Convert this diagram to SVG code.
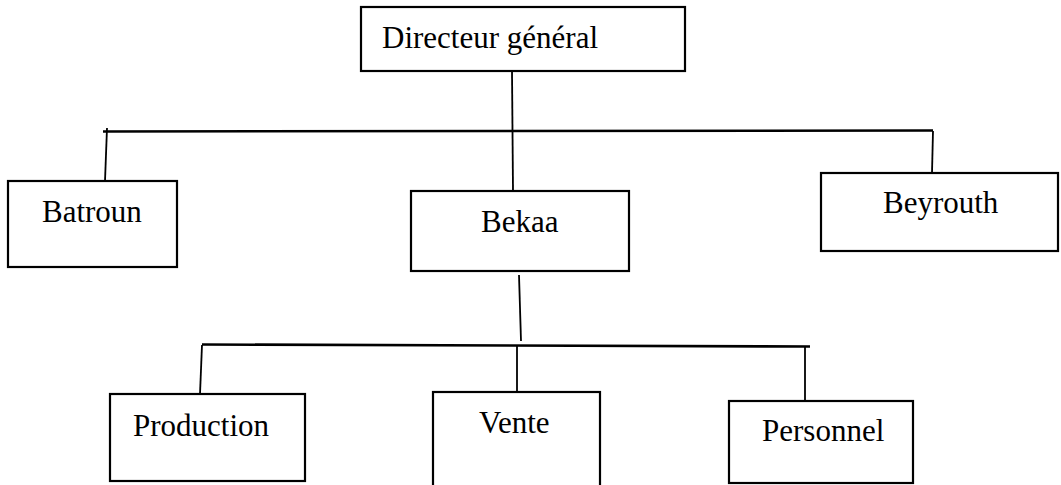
<svg xmlns="http://www.w3.org/2000/svg" width="1061" height="485" viewBox="0 0 1061 485">
<style>
.box{fill:#fff;stroke:#000;stroke-width:2.2}
.ln{stroke:#000;stroke-width:1.8;fill:none}
.hl{stroke:#000;stroke-width:2.6;fill:none}
text{font-family:"Liberation Serif","Times New Roman",serif;font-size:31px;fill:#000}
</style>
<rect width="1061" height="485" fill="#fff"/>
<g id="connectors">
<line class="ln" x1="512" y1="71" x2="513" y2="191"/>
<line class="hl" x1="103" y1="131.5" x2="933" y2="130.5"/>
<line class="ln" x1="107" y1="128" x2="105" y2="181"/>
<line class="ln" x1="933" y1="131" x2="932" y2="173"/>
<line class="ln" x1="519" y1="275" x2="521" y2="341"/>
<line class="hl" x1="202" y1="344.5" x2="810" y2="346.5"/>
<line class="ln" x1="202" y1="345" x2="200" y2="394"/>
<line class="ln" x1="517" y1="345" x2="517" y2="392"/>
<line class="ln" x1="805" y1="346" x2="805" y2="401"/>
</g>
<g id="directeur"><rect class="box" x="361" y="7" width="324" height="64"/><text x="382" y="48">Directeur général</text></g>
<g id="batroun"><rect class="box" x="8" y="181" width="169" height="86"/><text x="42" y="222">Batroun</text></g>
<g id="bekaa"><rect class="box" x="411" y="191" width="218" height="80"/><text x="481" y="232">Bekaa</text></g>
<g id="beyrouth"><rect class="box" x="821" y="173" width="237" height="78"/><text x="883" y="213">Beyrouth</text></g>
<g id="production"><rect class="box" x="110" y="394" width="195" height="87"/><text x="133" y="436">Production</text></g>
<g id="vente"><rect class="box" x="433" y="392" width="167" height="100"/><text x="479" y="433">Vente</text></g>
<g id="personnel"><rect class="box" x="729" y="401" width="184" height="82"/><text x="762" y="441">Personnel</text></g>
</svg>
